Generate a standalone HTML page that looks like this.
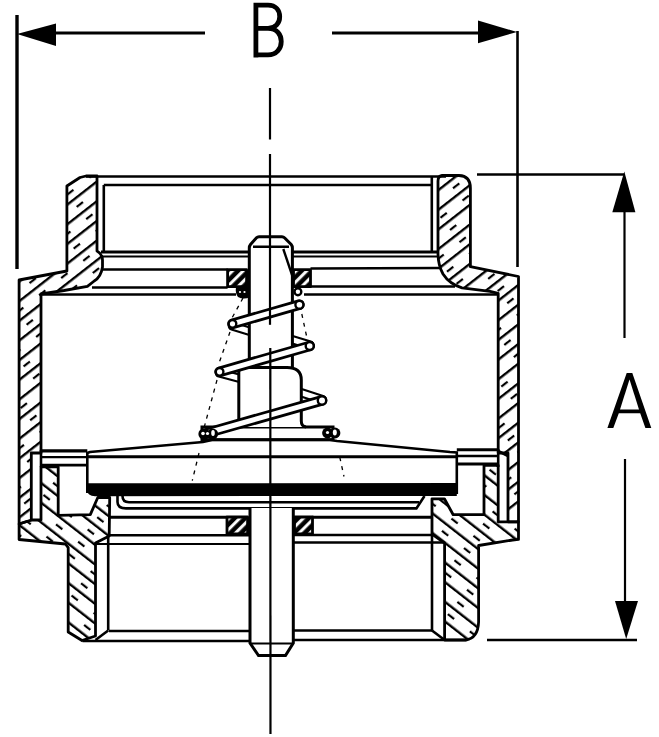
<!DOCTYPE html>
<html><head><meta charset="utf-8">
<style>
html,body{margin:0;padding:0;background:#fff;}
body{width:659px;height:737px;overflow:hidden;font-family:"Liberation Sans",sans-serif;}
svg{display:block;}
</style></head>
<body>
<svg width="659" height="737" viewBox="0 0 659 737">
<defs>
<pattern id="h1" patternUnits="userSpaceOnUse" width="15.5" height="28" patternTransform="rotate(52)">
<rect x="0" y="0" width="2.4" height="28" fill="#000"/>
<rect x="7.7" y="3" width="2.2" height="8" fill="#000"/>
</pattern>
<pattern id="h2" patternUnits="userSpaceOnUse" width="15.5" height="28" patternTransform="rotate(-52)">
<rect x="0" y="0" width="2.4" height="28" fill="#000"/>
<rect x="7.7" y="3" width="2.2" height="8" fill="#000"/>
</pattern>
<pattern id="h3" patternUnits="userSpaceOnUse" width="7.5" height="9" patternTransform="rotate(45)">
<rect x="0" y="0" width="7.5" height="9" fill="#000"/>
<rect x="2" y="0" width="3" height="9" fill="#fff"/>
</pattern>
</defs>
<rect width="659" height="737" fill="#fff"/>

<!-- ============ DIMENSIONS ============ -->
<g fill="none" stroke="#000" stroke-linecap="butt">
<line x1="17" y1="15" x2="17" y2="269" stroke-width="3.4"/>
<line x1="517.5" y1="31" x2="517.5" y2="267" stroke-width="2.6"/>
<line x1="30" y1="33" x2="205" y2="33" stroke-width="2.8"/>
<line x1="332" y1="33" x2="500" y2="33" stroke-width="2.8"/>
<line x1="477" y1="174.5" x2="624" y2="174.5" stroke-width="2.3"/>
<line x1="487" y1="640" x2="637" y2="640" stroke-width="2.3"/>
<line x1="624.5" y1="200" x2="624.5" y2="338" stroke-width="2.2"/>
<line x1="625" y1="459" x2="625" y2="610" stroke-width="2.2"/>
</g>
<g fill="#000" stroke="none">
<polygon points="17,34 56,23.5 56,46"/>
<polygon points="517,32 478,20.6 478,43.2"/>
<polygon points="624.3,171.5 612.3,212.3 635.4,212.3"/>
<polygon points="626.2,639 615,601 638,601"/>
</g>
<path d="M255.9,57.4 V5.1 H268 C276,5.1 279.7,10.5 279.7,16.7 C279.7,23 275.5,28.4 268,28.4 H255.9 M268,28.4 C277,28.4 281.25,34.5 281.25,41.5 C281.25,48.7 276.5,54.8 268,54.8 H255.9" fill="none" stroke="#000" stroke-width="4.8" stroke-linejoin="miter"/>
<polygon points="626.7,373 632.3,373 651.3,427.9 645.4,427.9 640.2,413.2 618.8,413.2 613.3,427.9 607.4,427.9" fill="#000"/>
<polygon points="629.5,379.5 639,409.4 620,409.4" fill="#fff"/>

<!-- ============ BODY ============ -->
<g stroke="#000" stroke-width="2.8" stroke-linejoin="round">
<!-- upper left body piece -->
<path fill="url(#h1)" d="M66.9,186 L80,177.5 L86,176 L97,176 L97,251 Q102.5,254 102.5,260 L102.5,267 Q101,277 94.2,281 L87.4,286.4 L64,290.5 L41,294 L41,453 L31.3,453 L31.3,520 L19.1,524 L19.1,280 L66.9,271 Z"/>
<!-- upper right body piece -->
<path fill="url(#h1)" d="M438,181 Q438,176 442,175.5 L459,175.5 Q470.4,176 470.4,188 L470.4,266.7 L518.5,276.5 L518.5,521.8 L508,521.8 L508,453 L498.2,453 L498.2,293.3 L490,291.4 L462,287.8 Q449.3,284 443,274 Q438,265 438,253 Z"/>
<!-- lower left body piece -->
<path fill="url(#h2)" d="M41,466.9 L58.2,466.9 L58.2,515.4 L90.3,514.6 L97.8,497.5 L109.7,497.5 L109.2,536 L95.5,543 L95.5,636 L82,640.5 L68.2,632 L68.2,547.6 L65.5,544 L19.1,539.5 L19.1,524 L31.3,520 L41,520 Z"/>
<!-- lower right body piece -->
<path fill="url(#h2)" d="M484,465.3 L498.2,465.3 L498.2,521.8 L518.5,521.8 L518.5,539.4 L512.6,540 L478.6,545.5 L478.6,622 Q478,638 466,640 L444.6,640 L444.6,543 L432,534 L432,498.8 L444.4,498.8 L453.2,514.7 L484,514.7 Z"/>
<!-- gaskets -->
<rect fill="url(#h3)" x="227.6" y="269.7" width="19" height="17"/>
<rect fill="url(#h3)" x="293.5" y="269.7" width="17" height="17"/>
<rect fill="url(#h3)" x="227" y="517" width="20.6" height="17"/>
<rect fill="url(#h3)" x="294.5" y="517" width="18" height="17"/>
</g>

<g fill="none" stroke="#000" stroke-width="2.6">
<!-- upper hub / thread -->
<line x1="86" y1="176.5" x2="446" y2="176.5"/>
<line x1="103.8" y1="185" x2="431.8" y2="185"/>
<line x1="103.8" y1="185" x2="103.8" y2="252"/>
<line x1="431.8" y1="176" x2="431.8" y2="252"/>
<line x1="101" y1="252" x2="249" y2="252" stroke-width="3"/>
<line x1="293" y1="252" x2="437.4" y2="252" stroke-width="3"/>
<line x1="102" y1="256.5" x2="249" y2="256.5" stroke-width="1.8"/>
<line x1="293" y1="256.5" x2="437.4" y2="256.5" stroke-width="1.8"/>
<line x1="101.7" y1="269.5" x2="227.6" y2="269.5"/>
<line x1="310.5" y1="268.5" x2="440" y2="268"/>
<line x1="92" y1="287.5" x2="227.6" y2="287.5"/>
<line x1="310.5" y1="286.5" x2="455" y2="286.5"/>
<line x1="41" y1="294.5" x2="236" y2="294.5"/>
<line x1="304" y1="294.5" x2="498.2" y2="294.5"/>

<!-- lower ring area -->
<line x1="41" y1="450.8" x2="87.3" y2="450.8" stroke-width="3.2"/>
<line x1="41" y1="457.2" x2="87.3" y2="457.2" stroke-width="2.2"/>
<line x1="41" y1="465.2" x2="87.3" y2="465.2" stroke-width="2.8"/>
<line x1="41" y1="450" x2="41" y2="467"/>
<line x1="456.8" y1="449.8" x2="498.2" y2="449.8" stroke-width="3"/>
<line x1="456.8" y1="456" x2="498.2" y2="456" stroke-width="2.6"/>
<line x1="456.8" y1="464" x2="498.2" y2="464" stroke-width="2.8"/>
<line x1="498.2" y1="449" x2="498.2" y2="467"/>
<line x1="498.2" y1="451" x2="508" y2="456"/>

<!-- lower hub / thread -->
<line x1="109.7" y1="517.2" x2="226.4" y2="517.2" stroke-width="3"/>
<line x1="312.5" y1="517.2" x2="432" y2="517.2" stroke-width="3"/>
<line x1="108.2" y1="535.2" x2="250" y2="535.2"/>
<line x1="293.3" y1="535" x2="432" y2="535"/>
<line x1="95.5" y1="544" x2="250" y2="544" stroke-width="2.2"/>
<line x1="293.3" y1="542.5" x2="444.6" y2="542.5"/>
<line x1="108.2" y1="536" x2="108.2" y2="630.5"/>
<line x1="108.2" y1="630.5" x2="95.5" y2="640"/>
<line x1="432" y1="535" x2="432" y2="630.5"/>
<line x1="432" y1="630.5" x2="444.6" y2="640"/>
<line x1="109" y1="631" x2="250" y2="631"/>
<line x1="293.3" y1="630.5" x2="432" y2="630.5"/>
<line x1="82.5" y1="641" x2="250" y2="641"/>
<line x1="293.3" y1="640" x2="466" y2="640"/>
</g>

<!-- ============ DISC ============ -->
<g fill="none" stroke="#000" stroke-width="2.6">
<path d="M87.3,493 L87.3,453 L90,452 L203,442 L212,440 L330,440 L337,441 L450,452 L456.8,452.5 L456.8,494"/>
<line x1="87.3" y1="456.8" x2="456.8" y2="456.8" stroke-width="3"/>
<path d="M117.5,495 L117.5,502 Q117.5,508.4 126,508.4 L416.4,508.4 L424.5,496" stroke-width="2.6"/>
<path d="M122.5,496 Q122.5,502.2 129,502.2 L419,502.2" stroke-width="2.6"/>
</g>
<path d="M87.3,483.3 L456.8,483 L456.8,496 L95,496.2 Q87.3,496 87.3,490 Z" fill="#000"/>

<!-- flange -->
<rect x="202" y="427" width="131" height="12.6" fill="#fff" stroke="#000" stroke-width="3"/>

<!-- ============ STEM ============ -->
<!-- back tubes of spring (behind stem) -->
<g fill="none" stroke-linecap="round">
<line x1="232.5" y1="326" x2="252" y2="332" stroke="#000" stroke-width="9.5"/>
<line x1="232.5" y1="326" x2="252" y2="332" stroke="#fff" stroke-width="5"/>
<line x1="219.6" y1="373" x2="242" y2="379" stroke="#000" stroke-width="9.5"/>
<line x1="219.6" y1="373" x2="242" y2="379" stroke="#fff" stroke-width="5"/>
<line x1="290" y1="339" x2="309.7" y2="345" stroke="#000" stroke-width="9.5"/>
<line x1="290" y1="339" x2="309.7" y2="345" stroke="#fff" stroke-width="5"/>
<line x1="299" y1="392" x2="322" y2="399.5" stroke="#000" stroke-width="9.5"/>
<line x1="299" y1="392" x2="322" y2="399.5" stroke="#fff" stroke-width="5"/>
</g>
<g fill="#fff" stroke="#000" stroke-width="3">
<path d="M249.3,368 L249.3,248 Q249.3,246 250.5,244.5 L256.5,237.8 Q257.5,236.7 259,236.7 L282,236.7 Q283.5,236.7 284.5,237.8 L291.2,244.5 Q292.4,246 292.4,248 L292.4,368"/>
<path d="M234,427 Q238.8,426.5 238.8,421 L238.8,372 Q238.8,367.5 243,367.5 L287,367.5 Q301.3,367.5 301.3,380 L301.3,421 Q301.3,426.5 306,427"/>
<path d="M250,508 L250,643 L258.5,655.5 L285.5,655.5 L293.3,643 L293.3,508"/>
</g>
<g fill="none" stroke="#000" stroke-width="2.4">
<line x1="253" y1="246.8" x2="289" y2="246.8"/>
<line x1="283.3" y1="249" x2="292.4" y2="276"/>
<line x1="250" y1="643.5" x2="293.3" y2="643.5" stroke-width="2.2"/>
</g>

<!-- ============ SPRING (front) ============ -->
<g fill="none" stroke-linecap="round">
<line x1="232.5" y1="323.8" x2="299.4" y2="304.7" stroke="#000" stroke-width="10.6"/>
<line x1="232.5" y1="323.8" x2="299.4" y2="304.7" stroke="#fff" stroke-width="5"/>
<line x1="219.6" y1="371.8" x2="309.7" y2="346" stroke="#000" stroke-width="10.6"/>
<line x1="219.6" y1="371.8" x2="309.7" y2="346" stroke="#fff" stroke-width="5"/>
<line x1="207" y1="433" x2="322" y2="400.4" stroke="#000" stroke-width="10.6"/>
<line x1="207" y1="433" x2="322" y2="400.4" stroke="#fff" stroke-width="5"/>
</g>
<g fill="#fff" stroke="#000" stroke-width="2.4">
<circle cx="232.5" cy="323.8" r="3.8"/>
<circle cx="299.4" cy="304.7" r="4"/>
<circle cx="219.6" cy="371.8" r="3.8"/>
<circle cx="309.7" cy="346" r="4"/>
<circle cx="322" cy="400.4" r="4.2"/>

<circle cx="297.9" cy="291.8" r="3.4"/>
</g>
<g fill="#000">
<circle cx="204" cy="434" r="5.6"/><circle cx="212.5" cy="434" r="5.6"/>
<circle cx="327.5" cy="433" r="5.4"/><circle cx="335" cy="433" r="5.4"/>
</g>
<g fill="#fff">
<circle cx="203" cy="433.5" r="1.8"/><circle cx="207.5" cy="433.5" r="1.6"/><ellipse cx="213" cy="433" rx="1.8" ry="3"/>
<circle cx="327.5" cy="432.5" r="1.6"/><ellipse cx="334.8" cy="432.5" rx="2" ry="3"/>
</g>
<path d="M236,287 L250,287 L250,297 Q244,300 238,297 Q235,293 236,287 Z" fill="#000"/>
<circle cx="240" cy="292" r="1.1" fill="#fff"/>
<circle cx="244.5" cy="292" r="1.1" fill="#fff"/>
<g fill="none" stroke="#000" stroke-width="1.3" stroke-dasharray="4 5">
<line x1="243" y1="298" x2="232" y2="318"/>
<line x1="230" y1="332" x2="218" y2="366"/>
<line x1="217" y1="380" x2="204" y2="428"/>
<line x1="199" y1="453" x2="192.3" y2="480.6"/>
<line x1="301.8" y1="314" x2="307.4" y2="340"/>
<line x1="339.8" y1="457.3" x2="344" y2="476.5"/>
</g>

<!-- ============ CENTER LINE ============ -->
<g fill="none" stroke="#000" stroke-width="2.2">
<line x1="270" y1="88" x2="270" y2="139.5"/>
<line x1="270" y1="154" x2="270" y2="324.8"/>
<line x1="270.3" y1="348" x2="270.5" y2="734"/>
</g>
</svg>
</body></html>
